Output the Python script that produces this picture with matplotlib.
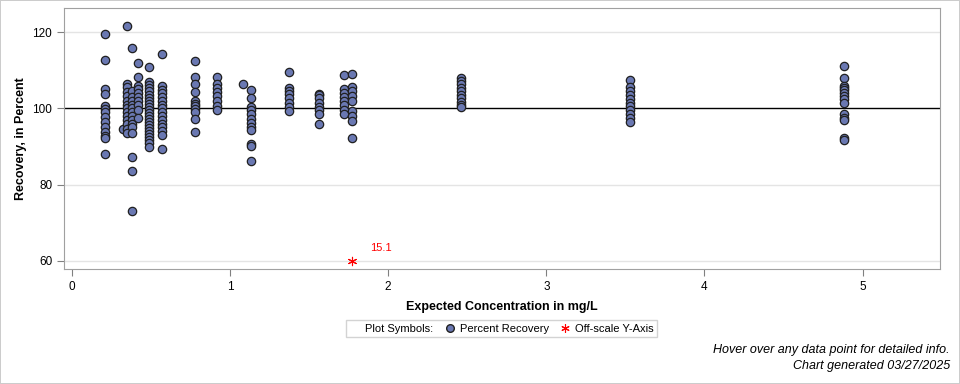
import matplotlib.pyplot as plt
from matplotlib.lines import Line2D

plt.rcParams['font.family'] = ['Liberation Sans', 'DejaVu Sans']

# 期待濃度ごとの回収率 (%)
conc = [0.21, 0.32, 0.35, 0.38, 0.42, 0.49, 0.57, 0.78, 0.92, 1.08, 1.13,
        1.37, 1.56, 1.72, 1.77, 2.46, 3.53, 4.88]
recovery = [
    [119.5, 112.7, 105.2, 103.9, 100.5, 99.8, 99.0, 97.7, 96.4, 95.0, 93.7, 92.8, 92.3, 88.1],
    [94.5],
    [121.5, 106.5, 105.5, 104.3, 103.2, 102.0, 101.0, 100.0, 99.0, 98.0, 97.0, 96.0, 94.5, 93.5],
    [115.9, 104.5, 103.0, 102.0, 101.0, 100.0, 99.0, 98.0, 97.0, 96.0, 95.0, 93.5, 87.3, 83.7, 73.0],
    [112.0, 108.1, 106.0, 105.0, 104.0, 103.0, 102.0, 101.0, 99.5, 97.5],
    [110.9, 107.0, 106.2, 105.3, 104.5, 103.6, 102.8, 102.0, 101.2, 100.4, 99.6, 98.8, 98.0,
     97.2, 96.4, 95.6, 94.8, 94.0, 93.2, 92.4, 91.6, 90.8, 90.0],
    [114.3, 106.0, 104.8, 104.0, 103.0, 102.0, 101.0, 100.0, 99.0, 98.0, 97.0, 96.0, 95.0,
     94.0, 93.0, 89.4],
    [112.3, 108.3, 106.3, 104.4, 101.9, 101.2, 100.6, 99.9, 99.1, 97.1, 93.7],
    [108.3, 106.3, 105.4, 104.4, 103.2, 101.9, 100.6, 99.6],
    [106.3],
    [104.8, 102.6, 100.4, 99.5, 98.4, 97.3, 96.2, 95.2, 94.3, 90.6, 90.1, 86.1],
    [109.6, 105.4, 104.5, 103.7, 102.8, 101.5, 100.4, 99.3],
    [103.9, 103.4, 102.6, 101.5, 100.4, 99.6, 98.6, 95.8],
    [108.7, 105.2, 104.1, 103.0, 101.9, 100.8, 99.7, 98.4],
    [108.9, 105.7, 104.5, 103.2, 101.9, 99.3, 98.0, 96.7, 92.3],
    [108.0, 107.2, 106.3, 105.4, 104.5, 103.6, 102.7, 101.8, 100.9, 100.3],
    [107.5, 105.5, 104.5, 103.5, 102.5, 101.5, 100.5, 99.5, 98.5, 97.5, 96.5],
    [111.0, 108.0, 106.0, 105.4, 104.7, 104.0, 103.2, 102.5, 101.5, 98.6, 97.6, 96.9, 92.2, 91.7],
]

# 軸外の点
off_x = [1.77]
off_y = [60]
off_label = ['15.1']

xs = [c for c, vals in zip(conc, recovery) for _ in vals]
ys = [v for vals in recovery for v in vals]

fig = plt.figure(figsize=(9.6, 3.84), dpi=100)
fig.patch.set_edgecolor('#cccccc')
fig.patch.set_linewidth(1.2)
ax = fig.add_axes([0.0667, 0.2995, 0.9125, 0.6795])

for y in [60, 80, 120]:
    ax.axhline(y, color='#e4e4e4', lw=1, zorder=0)
ax.axhline(100, color='black', lw=1, zorder=1)

ax.scatter(xs, ys, s=36, c='#6a78b2', edgecolors='#202020', linewidths=0.9, zorder=3)
ax.scatter(off_x, off_y, s=36, c='red', marker=(6, 2, 0), linewidths=0.8, zorder=3)
for x, y, t in zip(off_x, off_y, off_label):
    ax.annotate(t, (x, y), xytext=(13, 7), textcoords='offset points',
                color='red', fontsize=8)

ax.set_xlim(-0.05, 5.49)
ax.set_ylim(57.9, 126.3)
ax.set_xticks(range(6))
ax.set_yticks([60, 80, 100, 120])
ax.tick_params(labelsize=8.5, color='#808080', length=5)
for s in ax.spines.values():
    s.set_color('#a0a0a0')

ax.set_xlabel('Expected Concentration in mg/L', fontsize=9, fontweight='bold', labelpad=6)
ax.set_ylabel('Recovery, in Percent', fontsize=9, fontweight='bold', labelpad=4)

handles = [
    Line2D([], [], linestyle='none', marker=None),
    Line2D([], [], linestyle='none', marker='o', markersize=5.5,
           markerfacecolor='#6a78b2', markeredgecolor='#202020'),
    Line2D([], [], linestyle='none', marker=(6, 2, 0), markersize=6, color='red',
           markeredgewidth=0.8),
]
leg = fig.legend(handles, ['Plot Symbols:', 'Percent Recovery', 'Off-scale Y-Axis'],
                 ncol=3, loc='center', bbox_to_anchor=(0.5225, 0.1445), fontsize=8,
                 fancybox=False, edgecolor='#c8c8c8', handlelength=1.0,
                 handletextpad=0.4, columnspacing=1.0, borderpad=0.3)
leg.get_frame().set_linewidth(1)

fig.text(0.9896, 0.081, 'Hover over any data point for detailed info.',
         ha='right', fontsize=9, style='italic')
fig.text(0.9896, 0.038, 'Chart generated 03/27/2025',
         ha='right', fontsize=9, style='italic')

fig.savefig('out.png', dpi=100)
